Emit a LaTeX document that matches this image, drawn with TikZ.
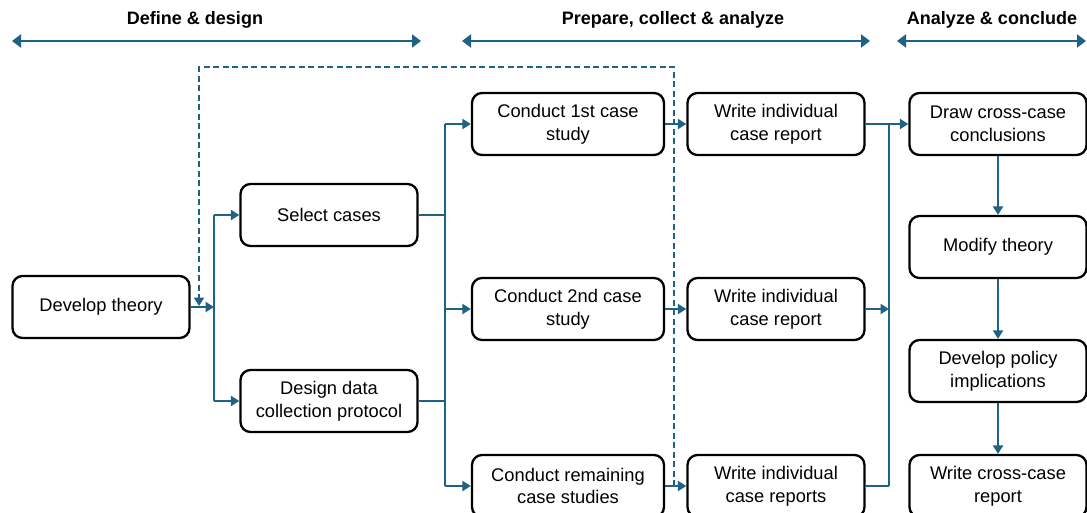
\documentclass[tikz,border=0pt]{standalone}
\usepackage{fontspec}
\setmainfont{Liberation Sans}
\usetikzlibrary{arrows.meta}
\definecolor{conn}{RGB}{30,98,133}
\tikzset{
  box/.style={draw=black, line width=2.3pt, rounded corners=10pt, align=center,
    inner sep=0pt, minimum height=62pt, font=\fontsize{18.3}{22.8}\selectfont},
  boxa/.style={box, minimum width=177pt},
  boxb/.style={box, minimum width=192pt},
  ln/.style={draw=conn, line width=2.3pt},
  arr/.style={ln, -{Triangle[length=8.5pt,width=10pt]}},
  darr/.style={ln, dash pattern=on 6pt off 3.5pt, -{Triangle[length=8.5pt,width=10pt]}},
  harr/.style={ln, {Triangle[length=9pt,width=13pt]}-{Triangle[length=9pt,width=13pt]}},
  head/.style={font=\fontsize{18}{22}\selectfont\bfseries, inner sep=0pt}
}
\begin{document}
\begin{tikzpicture}[x=1pt,y=-1pt]
\path[use as bounding box, clip] (0,0) rectangle (1087,512);
\fill[white] (0,0) rectangle (1087,512);

% headers
\node[head] (t1) at (195,20) {Define \& design};
\node[head] (t2) at (673,20) {Prepare, collect \& analyze};
\node[head] (t3) at (992,20) {Analyze \& conclude};
\coordinate (h1a) at (12,41); \coordinate (h1b) at (421,41);
\coordinate (h2a) at (462,41); \coordinate (h2b) at (870,41);
\coordinate (h3a) at (897,41); \coordinate (h3b) at (1086,41);
\draw[harr] (h1a) -- (h1b);
\draw[harr] (h2a) -- (h2b);
\draw[harr] (h3a) -- (h3b);

% boxes
\node[boxa] (dt) at (101,307) {Develop theory};
\node[boxa] (sel) at (329,215) {Select cases};
\node[boxa] (des) at (329,401) {Design data\\collection protocol};
\node[boxb] (c1) at (568,124) {Conduct 1st case\\study};
\node[boxb] (c2) at (568,309) {Conduct 2nd case\\study};
\node[boxb] (c3) at (568,486) {Conduct remaining\\case studies};
\node[boxa] (w1) at (776,124) {Write individual\\case report};
\node[boxa] (w2) at (776,309) {Write individual\\case report};
\node[boxa] (w3) at (776,486) {Write individual\\case reports};
\node[boxa] (dr) at (998,124) {Draw cross-case\\conclusions};
\node[boxa] (mt) at (998,247) {Modify theory};
\node[boxa] (dp) at (998,371) {Develop policy\\implications};
\node[boxa] (wr) at (998,486) {Write cross-case\\report};

% junctions
\coordinate (j1) at (214,307);
\coordinate (j2) at (445,309);
\coordinate (j3) at (889,309);

% develop theory -> select / design
\draw[arr] (dt) -- (j1);
\draw[ln] (j1 |- sel) -- (j1 |- des);
\draw[arr] (j1 |- sel) -- (sel);
\draw[arr] (j1 |- des) -- (des);

% select / design -> conduct
\draw[ln] (sel) -- (j2 |- sel);
\draw[ln] (des) -- (j2 |- des);
\draw[ln] (j2 |- c1) -- (j2 |- c3);
\draw[arr] (j2 |- c1) -- (c1);
\draw[arr] (j2) -- (c2);
\draw[arr] (j2 |- c3) -- (c3);

% conduct -> write
\draw[arr] (c1) -- (w1);
\draw[arr] (c2) -- (w2);
\draw[arr] (c3) -- (w3);

% write -> draw
\draw[arr] (w1) -- (dr);
\draw[ln] (j3 |- w1) -- (j3 |- w3);
\draw[arr] (w2) -- (j3);
\draw[ln] (w3) -- (j3 |- w3);

% right column
\draw[arr] (dr) -- (mt);
\draw[arr] (mt) -- (dp);
\draw[arr] (dp) -- (wr);

% dashed feedback
\coordinate (d0) at (674,486);
\coordinate (d1) at (674,67);
\coordinate (d2) at (199,67);
\coordinate (d3) at (199,306);
\draw[darr] (d0) -- (d1) -- (d2) -- (d3);
\end{tikzpicture}
\end{document}
